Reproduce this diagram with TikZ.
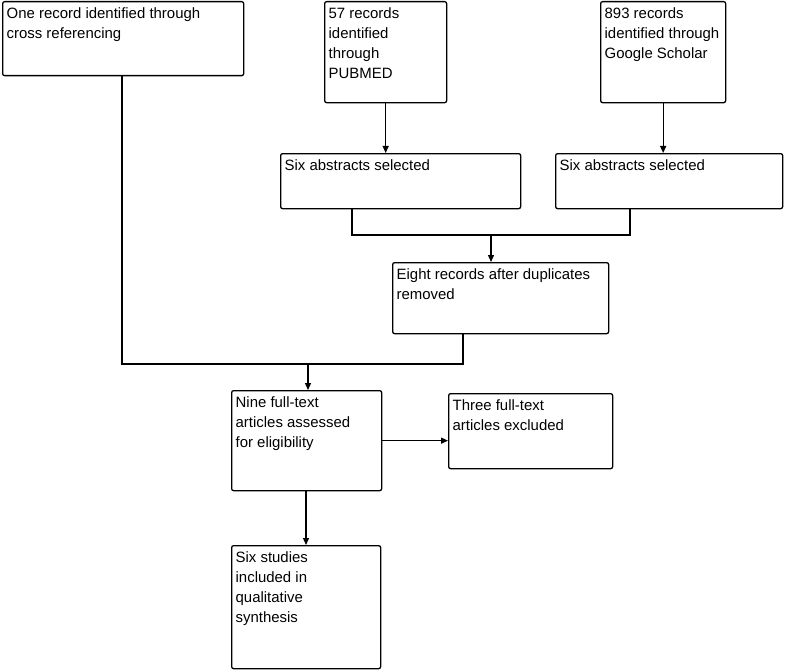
\documentclass[tikz,border=0pt]{standalone}
\usepackage{fontspec}
\setmainfont{Liberation Sans}
\usetikzlibrary{arrows.meta}
\begin{document}
\begin{tikzpicture}[x=1bp,y=-1bp,
  box/.style={draw,line width=1.3bp,rounded corners=2bp,anchor=north west,inner sep=0pt,font=\fontsize{15}{20}\selectfont},
  ln/.style={line width=1.3bp},
  ar/.style={ln,-{Triangle[length=7bp,width=6bp]}}]
\useasboundingbox (0,0) rectangle (797,672);
\newcommand{\B}[7]{\node[box,minimum width=#3bp,minimum height=#4bp] (#1) at (#5,#6) {\parbox[t][\dimexpr#4bp-12bp\relax][t]{\dimexpr#3bp-8bp\relax}{\raggedright #7}};}
\B{A}{}{241}{74}{2}{1}{One record identified through\\cross referencing}
\B{B}{}{122}{101}{324}{1}{57 records\\identified through\\PUBMED}
\B{C}{}{125}{101}{600}{1}{893 records\\identified through\\Google Scholar}
\B{D}{}{240}{55}{280}{153}{Six abstracts selected}
\B{E}{}{227}{55}{555}{153}{Six abstracts selected}
\B{F}{}{216}{71}{392}{262}{Eight records after duplicates\\removed}
\B{G}{}{150}{100}{231}{390}{Nine full-text\\articles assessed\\for eligibility}
\B{H}{}{164}{75}{448}{393}{Three full-text\\articles excluded}
\B{I}{}{149}{123}{231}{545}{Six studies\\included in\\qualitative\\synthesis}
\coordinate (j1) at (491,235);
\coordinate (j2) at (308,364);
\draw[ar] (B.south) -- (B.south |- D.north);
\draw[ar] (C.south) -- (C.south |- E.north);
\draw[ln] (D.south -| 352,0) -- (352,235) -- (630,235) -- (E.south -| 630,0);
\draw[ar] (j1) -- (j1 |- F.north);
\draw[ln] (A.south -| 122,0) -- (122,364) -- (463,364) -- (F.south -| 463,0);
\draw[ar] (j2) -- (j2 |- G.north);
\draw[ar] (G.east) -- (G.east -| H.west);
\draw[ar] (G.south -| 306,0) -- (I.north -| 306,0);
\end{tikzpicture}
\end{document}
